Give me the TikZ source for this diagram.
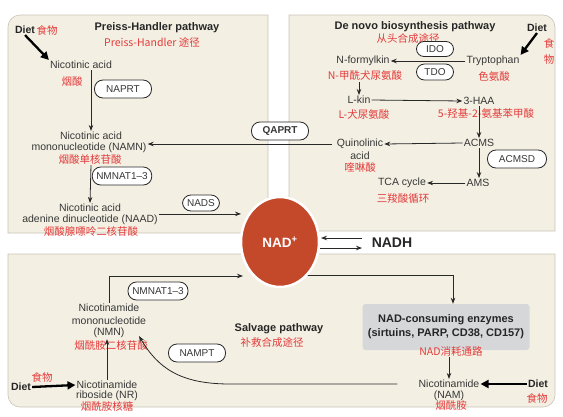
\documentclass[tikz,border=0pt]{standalone}
\usepackage{fontspec}
\setmainfont{Liberation Sans}
\newfontfamily\cjk{Noto Sans CJK SC}
\usetikzlibrary{arrows.meta,shapes.geometric,calc}
\definecolor{panelc}{RGB}{243,240,227}
\definecolor{panelb}{RGB}{200,197,184}
\definecolor{zhred}{RGB}{228,58,58}
\definecolor{txt}{RGB}{55,55,55}
\definecolor{linec}{RGB}{40,40,40}
\definecolor{nadred}{RGB}{196,72,42}
\definecolor{grayb}{RGB}{214,215,217}
\tikzset{
  t/.style={font=\fontsize{10.5}{12}\selectfont, inner sep=1pt, text=txt},
  hd/.style={font=\fontsize{11}{13}\selectfont\bfseries, inner sep=1pt, text=black!85},
  zh/.style={font=\cjk\fontsize{10.5}{12}\selectfont, text=zhred, inner sep=1pt},
  pill/.style={draw=linec, line width=0.8pt, fill=white, rounded corners=8.5pt, inner xsep=4pt, inner ysep=2pt, minimum height=18pt, text=txt, font=\fontsize{10}{12}\selectfont},
  arr/.style={-{Stealth[length=6pt,width=4.5pt]}, line width=0.8pt, draw=linec},
  diet/.style={-{Triangle[length=8pt,width=8pt]}, line width=2.3pt, draw=black},
  panel/.style={fill=panelc, draw=panelb, line width=0.6pt},
}
\begin{document}
\begin{tikzpicture}[x=1pt,y=-1pt]
\useasboundingbox (0,0) rectangle (563,416);
\fill[white] (0,0) rectangle (563,416);
% panels
\draw[panel] (268,233) -- (8,233) -- (8,27) arc[start angle=180,end angle=270,radius=12] -- (268,15) -- cycle;
\draw[panel] (289,231) -- (289,15) -- (543,15) arc[start angle=270,end angle=360,radius=12] -- (555,231) -- cycle;
\draw[panel] (8,254) -- (555,254) -- (555,395) arc[start angle=0,end angle=90,radius=12] -- (20,407) arc[start angle=90,end angle=180,radius=12] -- cycle;

% ---------- Preiss-Handler ----------
\node[hd, font=\fontsize{10.5}{12}\selectfont\bfseries] (dietL) at (25,30) {Diet};
\node[zh] (dietLzh) at (47,30) {食物};
\node[hd] (ph) at (157,28) {Preiss-Handler pathway};
\node[zh] (phzh) at (152,42) {Preiss-Handler 途径};
\node[t] (na) at (81,65) {Nicotinic acid};
\node[zh] (nazh) at (72,82) {烟酸};
\node[pill, minimum width=57pt] (naprt) at (123,89) {NAPRT};
\node[t] (namn1) at (91,136) {Nicotinic acid};
\node[t] (namn2) at (89,148) {mononucleotide (NAMN)};
\node[zh] (namnzh) at (90,159) {烟酸单核苷酸};
\node[pill, minimum width=58pt] (nmnat1) at (122,176) {NMNAT1--3};
\node[t] (naad1) at (90,208) {Nicotinic acid};
\node[t] (naad2) at (90,220) {adenine dinucleotide (NAAD)};
\node[zh] (naadzh) at (91,232) {烟酸腺嘌呤二核苷酸};
\node[pill, minimum width=37pt, minimum height=16pt] (nads) at (201,203) {NADS};
\node[pill, minimum width=57pt, font=\fontsize{10}{12}\selectfont\bfseries] (qaprt) at (280,131) {QAPRT};

% ---------- De novo ----------
\node[hd] (dn) at (415,27) {De novo biosynthesis pathway};
\node[zh] (dnzh) at (408,38) {从头合成途径};
\node[hd, font=\fontsize{10.5}{12}\selectfont\bfseries] (dietTR) at (537,28) {Diet};
\node[zh, align=center, font=\cjk\fontsize{10.5}{16}\selectfont] (dietTRzh) at (549,51) {食\\物};
\node[pill, minimum width=37pt, inner ysep=1pt, minimum height=15pt, rounded corners=7.5pt] (ido) at (435,49) {IDO};
\node[pill, minimum width=37pt, inner ysep=1pt, minimum height=16pt, rounded corners=8pt] (tdo) at (435,72) {TDO};
\node[t] (nform) at (363,61) {N-formylkin};
\node[zh] (nformzh) at (365,76) {N-甲酰犬尿氨酸};
\node[t] (tryp) at (493,61) {Tryptophan};
\node[zh] (trypzh) at (494,76) {色氨酸};
\node[t] (lkin) at (359,100) {L-kin};
\node[zh] (lkinzh) at (364,114) {L-犬尿氨酸};
\node[t] (haa) at (479,101) {3-HAA};
\node[zh] (haazh) at (486,114) {5-羟基-2-氨基苯甲酸};
\node[t] (acms) at (479,143) {ACMS};
\node[t] (quin) at (360,144) {Quinolinic};
\node[t] (quin2) at (360,156) {acid};
\node[zh] (quinzh) at (360,167) {喹啉酸};
\node[pill, minimum width=59pt] (acmsd) at (517,159) {ACMSD};
\node[t] (ams) at (478,183) {AMS};
\node[t] (tca) at (402,183) {TCA cycle};
\node[zh] (tcazh) at (403,199) {三羧酸循环};

% ---------- Salvage ----------
\node[pill, minimum width=60pt] (nmnat2) at (158,291) {NMNAT1--3};
\node[t] (nmn1) at (109,308) {Nicotinamide};
\node[t] (nmn2) at (109,321) {mononucleotide};
\node[t] (nmn3) at (109,333) {(NMN)};
\node[zh] (nmnzh) at (111,345) {烟酰胺二核苷酸};
\node[t] (nr1) at (107,385) {Nicotinamide};
\node[t] (nr2) at (107,396) {riboside (NR)};
\node[zh] (nrzh) at (107,406) {烟酰胺核糖};
\node[hd, font=\fontsize{10.5}{12}\selectfont\bfseries] (dietBL) at (21,387) {Diet};
\node[zh] (dietBLzh) at (42,377) {食物};
\node[pill, minimum width=57pt] (nampt) at (197,353) {NAMPT};
\node[hd] (salv) at (279,329) {Salvage pathway};
\node[zh] (salvzh) at (272,342) {补救合成途径};
\node[fill=grayb, rounded corners=3pt, minimum width=167pt, minimum height=46pt, align=center,
      font=\fontsize{11}{14}\selectfont\bfseries, text=black!85] (consume) at (446,327)
      {NAD-consuming enzymes\\(sirtuins, PARP, CD38, CD157)};
\node[zh] (consumezh) at (451,351) {NAD消耗通路};
\node[t] (nam) at (449,384) {Nicotinamide};
\node[t] (nam2) at (449,396) {(NAM)};
\node[zh] (namzh) at (451,406) {烟酰胺};
\node[hd, font=\fontsize{10.5}{12}\selectfont\bfseries] (dietBR) at (538,384) {Diet};
\node[zh] (dietBRzh) at (537,398) {食物};

% ---------- NADH ----------
\node[font=\fontsize{14}{16}\selectfont\bfseries, text=black!85, inner sep=1pt] (nadh) at (392,243) {NADH};

% ---------- coordinates ----------
\coordinate (nadinB) at (243,276);
\coordinate (nadoutB) at (300,275);
\coordinate (nadhL1) at (362,238);
\coordinate (nadL1) at (321,238);
\coordinate (nadL2) at (320,248);
\coordinate (nadhL2) at (362,248);
\coordinate (nmnin) at (139,336);

% ---------- connectors ----------
\draw[diet] (dietL.south) -- (na.north west);
\draw[arr] (na.south -| namn1.north) -- (namn1.north);
\draw[arr] ([xshift=-4pt]quin.west) -- (quin.west -| namn2.east);
\draw[arr] (namnzh.south -| namn1.north) -- (naad1.north);
\draw[arr] (naad2.north east) -- (naad2.north east -| 241,0);

\draw[diet] (dietTR.south) -- (tryp.north east);
\draw[arr] (tryp.west) -- (nform.east);
\draw[arr] (nformzh.south -| lkin.north) -- (lkin.north);
\draw[arr] (lkin.east) -- (haa.west);
\draw[arr] (haa.south) -- (acms.north);
\draw[arr] (acms.west) -- (quin.east);
\draw[arr] (acms.south) -- (acms.south |- ams.north);
\draw[arr] (ams.west) -- (tca.east);

\draw[arr] (nmn1.north) |- (nadinB);
\draw[arr] (nadoutB) -| ($(consume.north)+(7,0)$);
\draw[arr] (consumezh.south -| nam.north) -- (nam.north);
\draw[arr] (nr1.north) -- (nr1.north |- nmn3.south);
\draw[diet] (dietBL.east) -- (nr1.west);
\draw[diet] (dietBR.west) -- (nam.east);
\draw[arr] ([xshift=-20pt]nam.west) -- (230,384) .. controls (180,384) and (158,368) .. (nmnin);

\draw[arr] (nadhL1) -- (nadL1);
\draw[arr] (nadL2) -- (nadhL2);

% ---------- NAD+ ----------
\node[ellipse, fill=nadred, draw=white, line width=2.5pt, minimum width=78pt, minimum height=90pt,
      inner sep=0pt, text=white, font=\fontsize{13.5}{15}\selectfont\bfseries] (nad) at (280,242) {NAD\textsuperscript{+}};
\end{tikzpicture}
\end{document}
